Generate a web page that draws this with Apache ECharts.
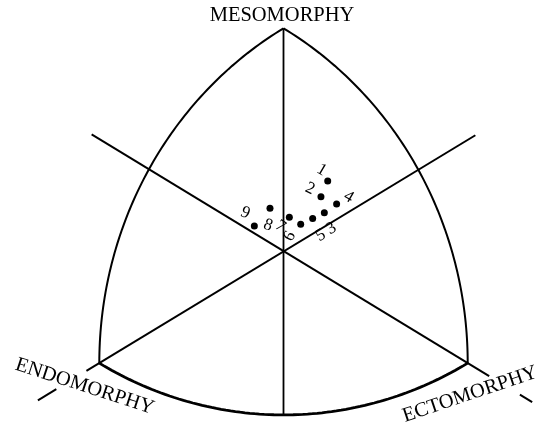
<!DOCTYPE html>
<html>
<head>
<meta charset="utf-8">
<script src="https://cdn.jsdelivr.net/npm/echarts@6/dist/echarts.min.js"></script>
<style>
html, body { margin: 0; padding: 0; background: #fff; }
#chart { width: 551px; height: 428px; }
</style>
</head>
<body>
<div id="chart"></div>
<script>
// Somatochart coordinates:
//   X = ectomorphy - endomorphy
//   Y = 2 * mesomorphy - (endomorphy + ectomorphy)
const componentNames = ['ENDOMORPHY', 'MESOMORPHY', 'ECTOMORPHY'];
const vertexX = [-6, 0, 6];
const vertexY = [-6, 12, -6];

const pointLabels = ['1', '2', '3', '4', '5', '6', '7', '8', '9'];
const pointX = [1.44, 1.22, 1.33, 1.73, 0.95, 0.56, 0.19, -0.44, -0.95];
const pointY = [3.79, 2.95, 2.09, 2.55, 1.78, 1.46, 1.84, 2.32, 1.37];

// label placement (pixels from the dot) and glyph rotation (degrees, CCW)
const labelDx = [-6, -11, 7, 12, 8, -11, -9, -2, -9];
const labelDy = [-11, -8, 16, -7, 17, 12, 9, 17, -13];
const labelRot = [-30, -25, 30, -30, 30, 60, -35, -20, -22];

// vertex name placement (pixels from the vertex) and rotation
const nameDx = [-14.6, -1.5, 2.3];
const nameDy = [23.4, -13, 31.4];
const nameRot = [-18, 0, 18.6];

const S3 = Math.sqrt(3);
const side = vertexX[2] - vertexX[0];

// circular arc in the undistorted plane (Y / sqrt3), centred on a vertex
function arc(ci, a0, a1) {
  const cx = vertexX[ci], cy = vertexY[ci] / S3;
  const pts = [];
  const n = 80;
  for (let i = 0; i <= n; i++) {
    const a = (a0 + (a1 - a0) * i / n) * Math.PI / 180;
    pts.push([cx + side * Math.cos(a), (cy + side * Math.sin(a)) * S3]);
  }
  return pts;
}

const bottomY = (vertexY[1] / S3 - side) * S3;

function seg(points, width) {
  return {
    type: 'line', data: points, symbol: 'none', silent: true, clip: false,
    animation: false,
    lineStyle: { color: '#000', width: width || 2 }
  };
}

const chart = echarts.init(document.getElementById('chart'));

chart.setOption({
  backgroundColor: '#fff',
  animation: false,
  grid: { left: 7.2, right: 6.55, top: 9.7, bottom: 9.1 },
  xAxis: { type: 'value', min: -9, max: 8.5, show: false },
  yAxis: { type: 'value', min: -9, max: 13, show: false },
  series: [
    // curved sides
    seg(arc(2, 120, 180), 2),
    seg(arc(0, 0, 60), 2),
    seg(arc(1, 240, 300), 2.8),
    // axes through the centre
    seg([[vertexX[1], vertexY[1]], [0, bottomY]], 1.8),
    seg([[-6.42, -6.42], [6.25, 6.25]], 2),
    seg([[6.7, -6.7], [-6.25, 6.3]], 2),
    seg([[-7.4, -7.4], [-8.0, -8.0]], 2),
    seg([[7.7, -7.7], [8.1, -8.1]], 2),
    {
      type: 'scatter',
      data: pointX.map((x, i) => [x, pointY[i]]),
      symbolSize: 7,
      itemStyle: { color: '#000', opacity: 1 },
      silent: true,
      clip: false
    }
  ]
});

const graphics = [];
pointLabels.forEach((t, i) => {
  const p = chart.convertToPixel({ gridIndex: 0 }, [pointX[i], pointY[i]]);
  graphics.push({
    type: 'text', x: p[0] + labelDx[i], y: p[1] + labelDy[i],
    rotation: labelRot[i] * Math.PI / 180,
    style: {
      text: t, font: '17px "Liberation Serif"', fill: '#000',
      textAlign: 'center', textVerticalAlign: 'middle'
    }
  });
});
componentNames.forEach((t, i) => {
  const p = chart.convertToPixel({ gridIndex: 0 }, [vertexX[i], vertexY[i]]);
  graphics.push({
    type: 'text', x: p[0] + nameDx[i], y: p[1] + nameDy[i],
    rotation: nameRot[i] * Math.PI / 180,
    style: {
      text: t, font: '20.5px "Liberation Serif"', fill: '#000',
      textAlign: 'center', textVerticalAlign: 'middle'
    }
  });
});
chart.setOption({ graphic: graphics });
</script>
</body>
</html>
